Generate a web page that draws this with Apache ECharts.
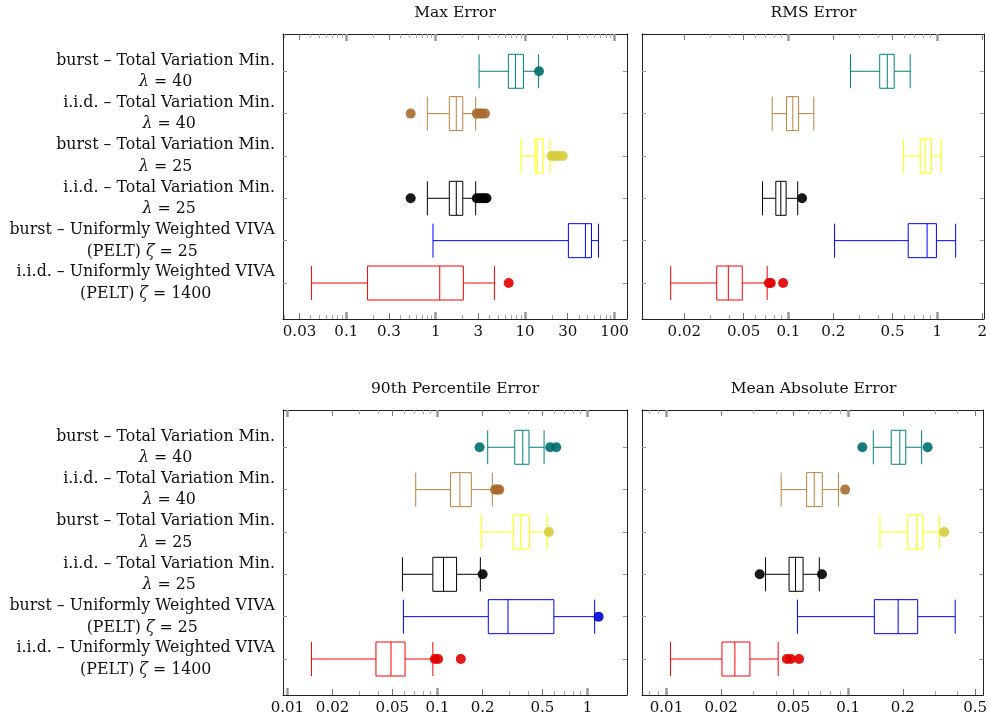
<!DOCTYPE html>
<html>
<head>
<meta charset="utf-8">
<script src="https://cdn.jsdelivr.net/npm/echarts@6/dist/echarts.min.js"></script>
<style>
  html, body { margin: 0; padding: 0; background: #fff; }
  #chart { width: 990px; height: 719px; }
</style>
</head>
<body>
<div id="chart"></div>
<script>
// rows, top to bottom
const rowLabels = [
  ['burst – Total Variation Min.', 'λ = 40'],
  ['i.i.d. – Total Variation Min.', 'λ = 40'],
  ['burst – Total Variation Min.', 'λ = 25'],
  ['i.i.d. – Total Variation Min.', 'λ = 25'],
  ['burst – Uniformly Weighted VIVA', '(PELT) ζ = 25'],
  ['i.i.d. – Uniformly Weighted VIVA', '(PELT) ζ = 1400']
];
const rowColors = ['#008080', '#bf8040', '#ffff00', '#000000', '#0000ff', '#ff0000'];
const outlierColors = ['#006e6e', '#a86a30', '#d6cc3c', '#000000', '#0000d8', '#e00000'];

// [min, Q1, median, Q3, max]
const maxErrorBoxes = [
  [3.06, 6.5, 7.8, 9.58, 14.1],
  [0.807, 1.42, 1.70, 2.01, 2.80],
  [9.02, 12.9, 13.7, 15.8, 19.05],
  [0.807, 1.42, 1.70, 2.01, 2.80],
  [0.933, 30.5, 47.3, 55.3, 66.2],
  [0.0409, 0.173, 1.11, 2.04, 4.54]
];
const maxErrorOutliers = [
  [14.3],
  [0.525, 2.88, 3.1, 3.3, 3.56],
  [19.9, 21.5, 23.5, 26.4],
  [0.525, 2.88, 3.1, 3.3, 3.5, 3.7],
  [],
  [6.56]
];
const maxErrorTicks = [0.03, 0.1, 0.3, 1, 3, 10, 30, 100];

const rmsErrorBoxes = [
  [0.261, 0.410, 0.461, 0.513, 0.657],
  [0.0778, 0.0970, 0.107, 0.117, 0.148],
  [0.593, 0.766, 0.827, 0.912, 1.063],
  [0.067, 0.0823, 0.0889, 0.0965, 0.1154],
  [0.204, 0.637, 0.853, 0.985, 1.326],
  [0.0162, 0.0330, 0.0395, 0.0490, 0.0720]
];
const rmsErrorOutliers = [
  [],
  [],
  [],
  [0.1234],
  [],
  [0.0739, 0.0762, 0.0921]
];
const rmsErrorTicks = [0.02, 0.05, 0.1, 0.2, 0.5, 1, 2];

const p90ErrorBoxes = [
  [0.216, 0.327, 0.370, 0.407, 0.513],
  [0.0716, 0.122, 0.141, 0.168, 0.232],
  [0.196, 0.320, 0.3585, 0.410, 0.538],
  [0.0584, 0.0931, 0.1097, 0.134, 0.193],
  [0.0593, 0.218, 0.295, 0.596, 1.114],
  [0.01447, 0.0389, 0.049, 0.0608, 0.0931]
];
const p90ErrorOutliers = [
  [0.1908, 0.563, 0.618],
  [0.242, 0.250, 0.258],
  [0.552],
  [0.1998],
  [1.184],
  [0.096, 0.101, 0.143]
];
const p90ErrorTicks = [0.01, 0.02, 0.05, 0.1, 0.2, 0.5, 1];

const maeBoxes = [
  [0.1376, 0.1727, 0.1926, 0.2077, 0.254],
  [0.0428, 0.0591, 0.0651, 0.0721, 0.0885],
  [0.1497, 0.213, 0.2385, 0.2585, 0.319],
  [0.0351, 0.0473, 0.0513, 0.0565, 0.0694],
  [0.0526, 0.1394, 0.1886, 0.2416, 0.3886],
  [0.01052, 0.0202, 0.0238, 0.0288, 0.0412]
];
const maeOutliers = [
  [0.1198, 0.274],
  [0.0963],
  [0.338],
  [0.0326, 0.0718],
  [],
  [0.046, 0.0483, 0.0537]
];
const maeTicks = [0.01, 0.02, 0.05, 0.1, 0.2, 0.5];

const FONT = 'DejaVu Serif';
const ROWS = [1, 2, 3, 4, 5, 6];

const panels = [
  { title: 'Max Error', boxes: maxErrorBoxes, outliers: maxErrorOutliers, ticks: maxErrorTicks,
    range: [0.0196, 138], left: 283, top: 34, width: 344 },
  { title: 'RMS Error', boxes: rmsErrorBoxes, outliers: rmsErrorOutliers, ticks: rmsErrorTicks,
    range: [0.0104, 2.05], left: 642, top: 34, width: 343 },
  { title: '90th Percentile Error', boxes: p90ErrorBoxes, outliers: p90ErrorOutliers, ticks: p90ErrorTicks,
    range: [0.00935, 1.83], left: 283, top: 410, width: 344 },
  { title: 'Mean Absolute Error', boxes: maeBoxes, outliers: maeOutliers, ticks: maeTicks,
    range: [0.00733, 0.555], left: 642, top: 410, width: 343 }
];
const PANEL_H = 285;

// log tick positions inside a range
function decadeTicks(range, mults) {
  const out = [];
  for (let e = -4; e <= 4; e++) {
    mults.forEach(k => {
      const v = +(k * Math.pow(10, e)).toPrecision(6);
      if (v >= range[0] && v <= range[1]) out.push(v);
    });
  }
  return out;
}

function rowLabel(v) {
  const lines = rowLabels[6 - Math.round(v)];
  const second = lines[1].replace(/([λζ])/g, '}{i|$1}{c|');
  return '{c|' + lines[0] + '}\n{c|' + second + '}';
}

const labelRich = {
  c: { fontFamily: FONT, fontSize: 15.8, color: '#111', align: 'center', lineHeight: 21.5 },
  i: { fontFamily: FONT, fontSize: 15.8, color: '#111', align: 'center', lineHeight: 21.5, fontStyle: 'italic' }
};

const grids = [], xAxes = [], yAxes = [], series = [], titles = [];

panels.forEach((p, i) => {
  grids.push({ left: p.left, top: p.top, width: p.width, height: PANEL_H });
  titles.push({
    text: p.title, left: p.left + p.width / 2, top: p.top - 29, textAlign: 'center', padding: 0,
    textStyle: { fontFamily: FONT, fontSize: 15.5, fontWeight: 'normal', color: '#111' }
  });

  const majors = decadeTicks(p.range, [1]);
  const minors = decadeTicks(p.range, [2, 3, 4, 5, 6, 7, 8, 9]).filter(v => p.ticks.indexOf(v) < 0);
  const xBase = xAxes.length;

  ['bottom', 'top'].forEach(pos => {
    xAxes.push({
      gridIndex: i, type: 'log', min: p.range[0], max: p.range[1], position: pos,
      axisLine: { show: true, onZero: false, lineStyle: { color: '#222', width: 1 } },
      axisTick: { show: true, inside: true, length: 6, customValues: p.ticks, lineStyle: { color: '#777', width: 1 } },
      axisLabel: {
        show: pos === 'bottom', customValues: p.ticks, margin: 6,
        fontFamily: FONT, fontSize: 15, color: '#111',
        formatter: v => String(+(+v).toPrecision(6))
      },
      splitLine: { show: false }
    });
    xAxes.push({
      gridIndex: i, type: 'log', min: p.range[0], max: p.range[1], position: pos,
      axisLine: { show: false },
      axisTick: { show: true, inside: true, length: 4, customValues: minors, lineStyle: { color: '#aaa', width: 1 } },
      axisLabel: { show: false },
      splitLine: { show: false }
    });
    xAxes.push({
      gridIndex: i, type: 'log', min: p.range[0], max: p.range[1], position: pos,
      axisLine: { show: false },
      axisTick: { show: true, inside: true, length: 7, customValues: majors, lineStyle: { color: '#999', width: 2.5 } },
      axisLabel: { show: false },
      splitLine: { show: false }
    });
  });

  const yBase = yAxes.length;
  ['left', 'right'].forEach(pos => {
    yAxes.push({
      gridIndex: i, type: 'value', min: 0.15, max: 6.88, position: pos,
      axisLine: { show: true, onZero: false, lineStyle: { color: '#222', width: 1 } },
      axisTick: { show: true, inside: true, length: 4, customValues: ROWS, lineStyle: { color: '#999', width: 1 } },
      axisLabel: {
        show: pos === 'left' && i % 2 === 0, customValues: ROWS, margin: 8,
        formatter: rowLabel, rich: labelRich
      },
      splitLine: { show: false }
    });
  });

  series.push({
    type: 'boxplot',
    xAxisIndex: xBase, yAxisIndex: yBase,
    layout: 'vertical',
    boxWidth: [34, 34],
    silent: true,
    emphasis: { disabled: true },
    data: p.boxes.map((b, r) => ({
      value: [6 - r].concat(b),
      itemStyle: { color: 'rgba(255,255,255,0)', borderColor: rowColors[r], borderWidth: 1 }
    }))
  });

  const pts = [];
  p.outliers.forEach((list, r) => {
    list.forEach(v => pts.push({ value: [v, 6 - r], itemStyle: { color: outlierColors[r], opacity: 0.9 } }));
  });
  series.push({
    type: 'scatter',
    xAxisIndex: xBase, yAxisIndex: yBase,
    symbolSize: 10,
    silent: true,
    z: 5,
    data: pts
  });
});

const chart = echarts.init(document.getElementById('chart'));
chart.setOption({
  animation: false,
  backgroundColor: '#fff',
  title: titles,
  grid: grids,
  xAxis: xAxes,
  yAxis: yAxes,
  series: series
});
</script>
</body>
</html>
